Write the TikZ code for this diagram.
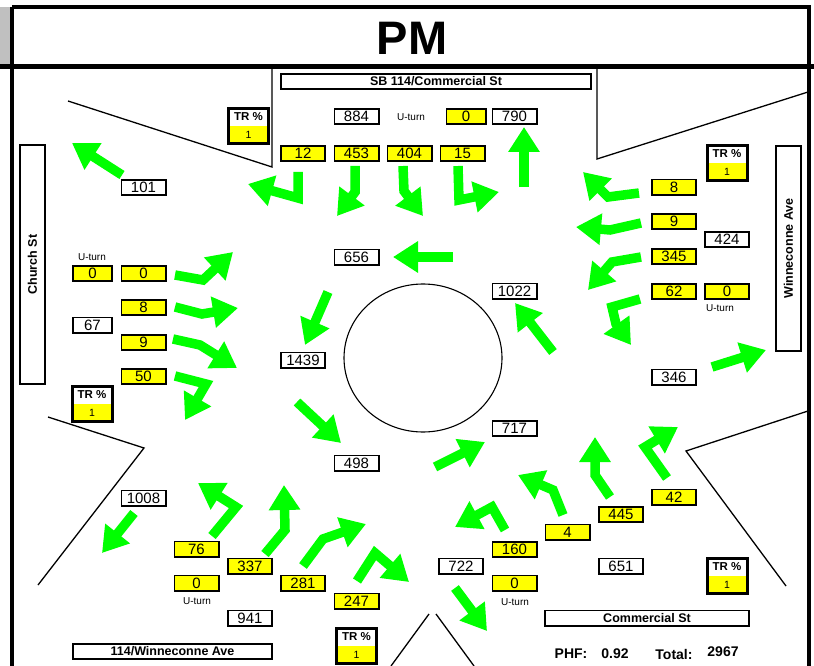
\documentclass[tikz,border=0pt]{standalone}
\usepackage{fontspec}
\setmainfont{Liberation Sans}
\usetikzlibrary{arrows.meta,positioning}
\definecolor{volyellow}{RGB}{255,255,0}
\definecolor{flowgreen}{RGB}{0,255,0}
\definecolor{tabgray}{RGB}{192,192,192}

\tikzset{
  num/.style={draw,line width=1.6pt,minimum width=44.4pt,minimum height=15.4pt,inner sep=0pt,font=\fontsize{15}{15}\selectfont},
  vol/.style={num,fill=volyellow},
  narrow/.style={minimum width=39.4pt},
  street/.style={draw,line width=1.6pt,minimum height=15.4pt,inner sep=0pt,font=\bfseries\fontsize{12.5}{12.5}\selectfont},
  uturn/.style={inner sep=0pt,font=\fontsize{10}{10}\selectfont},
  trhead/.style={minimum width=40pt,minimum height=17.5pt,inner sep=0pt,outer sep=0pt,font=\bfseries\fontsize{11.5}{11.5}\selectfont},
  trval/.style={trhead,fill=volyellow,font=\fontsize{10.5}{10.5}\selectfont},
  flow/.style={draw=flowgreen,line width=9.5pt,-{Triangle[length=25pt,width=30pt]}},
  edge/.style={line width=1.3pt},
}

\begin{document}
\begin{tikzpicture}[x=1pt,y=-1pt]
\useasboundingbox (0,0) rectangle (814,666);

% frame and title
\fill[tabgray] (0,7) rectangle (11,66);
\draw[line width=4pt] (12,7) -- (809,7) -- (809,67);
\draw[line width=5pt] (0,67) -- (814,67);
\draw[line width=4.5pt] (12,7) -- (12,666);
\draw[line width=4pt] (809,67) -- (809,666);
\node[font=\bfseries\fontsize{47}{47}\selectfont] (title) at (412,38) {PM};

% road edges
\coordinate (nwA) at (68,101);
\coordinate (nwB) at (272,167);
\coordinate (neA) at (597,159);
\coordinate (neB) at (808,92);
\coordinate (swA) at (48,417);
\coordinate (swB) at (144,448);
\coordinate (seA) at (686,451);
\draw[edge] (nwA) -- (nwB) -- (272,68);
\draw[edge] (597,68) -- (neA) -- (neB);
\draw[edge] (swA) -- (swB) -- (38,585);
\draw[edge] (808,411) -- (seA) -- (786,586);
\draw[edge] (429,614) -- (391,666);
\draw[edge] (436,614) -- (474,666);
\draw[line width=1.1pt] (423,358) ellipse (79 and 74);

% street names
\node[street,minimum width=310.4pt] (sb) at (436,81.5) {SB 114/Commercial St};
\node[street,minimum width=199.4pt] (wave) at (172.5,651.5) {114/Winneconne Ave};
\node[street,minimum width=204.4pt] (comm) at (647,618) {Commercial St};
\node[street,rotate=90,minimum width=239.4pt,minimum height=25.4pt] (church) at (32.5,264.5) {Church St};
\node[street,rotate=90,minimum width=205.4pt,minimum height=25.4pt] (winne) at (788.5,248.5) {Winneconne Ave};

% truck percentages
\node[trhead] (trA) at (248.5,117) {TR \%};
\node[trval,below=0pt of trA] (trAv) {1};
\node[trhead] (trB) at (92,395) {TR \%};
\node[trval,below=0pt of trB] (trBv) {1};
\node[trhead] (trC) at (356.5,637) {TR \%};
\node[trval,below=0pt of trC] (trCv) {1};
\node[trhead] (trD) at (727,154) {TR \%};
\node[trval,below=0pt of trD] (trDv) {1};
\node[trhead] (trE) at (727,567) {TR \%};
\node[trval,below=0pt of trE] (trEv) {1};
\foreach \t in {trA,trB,trC,trD,trE}
  \draw[line width=3pt] (\t.north west) rectangle (\t v.south east);

% north approach
\node[num] (n884) at (356.5,116.5) {884};
\node[uturn] (uN) at (411,117) {U-turn};
\node[vol,narrow] (vUN) at (466,116.5) {0};
\node[num] (n790) at (514.5,116.5) {790};
\node[vol] (v12) at (303,153.5) {12};
\node[vol] (v453) at (356.5,153.5) {453};
\node[vol] (v404) at (409.5,153.5) {404};
\node[vol] (v15) at (462.5,153.5) {15};

% west approach
\node[num] (n101) at (143.5,187.5) {101};
\node[uturn] (uW) at (92,257) {U-turn};
\node[vol,narrow] (vUW) at (92.5,273.5) {0};
\node[vol] (v0W) at (143.5,273.5) {0};
\node[vol] (v8W) at (143.5,307.5) {8};
\node[num,narrow] (n67) at (92.5,325) {67};
\node[vol] (v9W) at (143.5,342.5) {9};
\node[vol] (v50) at (143.5,376.5) {50};

% south-west approach
\node[num] (n1008) at (143.5,498) {1008};
\node[vol] (v76) at (196.5,549) {76};
\node[vol] (v337) at (250,566) {337};
\node[vol] (vUS) at (196.5,583) {0};
\node[uturn] (uS) at (197,601) {U-turn};
\node[vol] (v281) at (303,583) {281};
\node[vol] (v247) at (356.5,601) {247};
\node[num] (n941) at (250,618) {941};

% circulating
\node[num] (n656) at (356.5,257) {656};
\node[num] (n1022) at (514.5,291) {1022};
\node[num] (n1439) at (303,360) {1439};
\node[num] (n498) at (356.5,463) {498};
\node[num] (n717) at (514.5,428.5) {717};

% east approach
\node[vol] (v8E) at (674,187) {8};
\node[vol] (v9E) at (674,221.5) {9};
\node[num] (n424) at (727,239.5) {424};
\node[vol] (v345) at (674,256.5) {345};
\node[vol] (v62) at (674,291.5) {62};
\node[vol] (vUE) at (727,291.5) {0};
\node[uturn] (uE) at (720,308) {U-turn};
\node[num] (n346) at (674,377) {346};

% south-east approach
\node[vol] (v42) at (674,497) {42};
\node[vol] (v445) at (621,514.5) {445};
\node[vol] (v4) at (567.5,532) {4};
\node[vol] (v160) at (514.5,549.5) {160};
\node[num] (n722) at (461,566) {722};
\node[vol] (vUSE) at (514.5,583) {0};
\node[uturn] (uSE) at (515,602) {U-turn};
\node[num] (n651) at (621,566) {651};

\node[font=\bfseries\fontsize{14}{14}\selectfont] (phf) at (571,654) {PHF:};
\node[font=\bfseries\fontsize{14}{14}\selectfont] (phfv) at (615,654) {0.92};
\node[font=\bfseries\fontsize{14}{14}\selectfont] (tot) at (674,654) {Total:};
\node[font=\bfseries\fontsize{14}{14}\selectfont] (totv) at (723,652) {2967};

% movements
\draw[flow] (298,172) -- (298,198) -- (248,184);
\draw[flow] (355,166) -- (355,192) -- (337,216);
\draw[flow] (403,166) -- (404,191) -- (423,216);
\draw[flow] (458,166) -- (459,200) -- (499,192);
\draw[flow] (524,187) -- (524,127);

\draw[flow] (122,175) -- (72,143);
\draw[flow] (175,275) -- (203,280) -- (233,252);
\draw[flow] (175,307) -- (202,314) -- (238,308);
\draw[flow] (173,339) -- (200,345) -- (237,368);
\draw[flow] (175,376) -- (206,384) -- (185,420);

\draw[flow] (134,513) -- (102,553);
\draw[flow] (212,536) -- (236,507) -- (198,483);
\draw[flow] (265,554) -- (285,530) -- (284,485);
\draw[flow] (303,566) -- (323,539) -- (366,524);
\draw[flow] (357,581) -- (375,553) -- (409,582);

\draw[flow] (453,257) -- (393,257);
\draw[flow] (328,292) -- (305,345);
\draw[flow] (297,402) -- (341,443);
\draw[flow] (435,467) -- (485,442);
\draw[flow] (553,352) -- (515,303);

\draw[flow] (639,193) -- (608,197) -- (583,172);
\draw[flow] (641,223) -- (610,230) -- (576,227);
\draw[flow] (641,257) -- (612,262) -- (588,290);
\draw[flow] (640,299) -- (612,307) -- (616,324) -- (631,345);
\draw[flow] (712,367) -- (766,350);

\draw[flow] (667,478) -- (645,447) -- (678,427);
\draw[flow] (610,497) -- (595,475) -- (595,437);
\draw[flow] (563,515) -- (553,490) -- (518,475);
\draw[flow] (505,530) -- (492,507) -- (455,527);
\draw[flow] (455,588) -- (487,631);
\end{tikzpicture}
\end{document}
